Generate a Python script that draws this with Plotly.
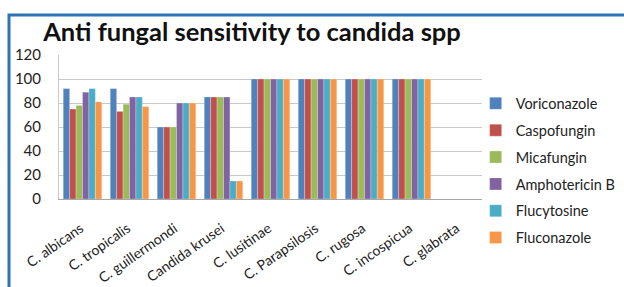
import plotly.graph_objects as go

categories = ["C. albicans", "C. tropicalis", "C. guillermondi", "Candida krusei",
              "C. lusitinae", "C. Parapsilosis", "C. rugosa", "C. incospicua", "C. glabrata"]

voriconazole   = [92, 92, 60, 85, 100, 100, 100, 100, None]
caspofungin    = [75, 73, 60, 85, 100, 100, 100, 100, None]
micafungin     = [78, 79, 60, 85, 100, 100, 100, 100, None]
amphotericin_b = [89, 85, 80, 85, 100, 100, 100, 100, None]
flucytosine    = [92, 85, 80, 15, 100, 100, 100, 100, None]
fluconazole    = [81, 77, 80, 15, 100, 100, 100, 100, None]

series = [
    ("Voriconazole", voriconazole, "#4F81BD"),
    ("Caspofungin", caspofungin, "#C0504D"),
    ("Micafungin", micafungin, "#9BBB59"),
    ("Amphotericin B", amphotericin_b, "#8064A2"),
    ("Flucytosine", flucytosine, "#4BACC6"),
    ("Fluconazole", fluconazole, "#F79646"),
]

FONT = "Lato"

fig = go.Figure()
for i, (name, vals, color) in enumerate(series):
    fig.add_trace(go.Bar(
        name=name, x=categories, y=vals,
        marker=dict(color=color, line=dict(color="rgba(255,255,255,0.5)", width=0.5)),
        legendgroup=f"g{i}",
    ))

fig.update_layout(
    width=624, height=287,
    margin=dict(l=59, r=142, t=55, b=88, autoexpand=False),
    paper_bgcolor="white", plot_bgcolor="white",
    barmode="group", bargap=0.18, bargroupgap=0,
    font=dict(family=FONT, size=13, color="#222222"),
    title=dict(text="<b>Anti fungal sensitivity to candida spp</b>",
               font=dict(family=FONT, size=25.5, color="#111111"),
               xref="container", x=252/624, xanchor="center",
               yref="container", y=1-32/287, yanchor="middle"),
    legend=dict(x=0.985, xanchor="left", y=0.775, yanchor="top",
                font=dict(family=FONT, size=14.5, color="#222222"),
                tracegroupgap=5, itemwidth=30, bgcolor="rgba(0,0,0,0)",
                maxheight=280),
    xaxis=dict(showline=True, linecolor="#A6A6A6", linewidth=1, automargin=False,
               tickangle=-35, tickfont=dict(size=14), ticks="",
               ticklabelstandoff=15, ticklabelshift=-2),
    yaxis=dict(range=[0, 120], dtick=20, showgrid=True, gridcolor="#C8C8C8", gridwidth=1,
               showline=True, linecolor="#C8C8C8", zeroline=False, automargin=False,
               tickfont=dict(size=15), ticklabelstandoff=14),
    shapes=[dict(type="rect", xref="paper", yref="paper",
                 x0=(9-59)/423, x1=1.6, y0=-0.8, y1=(199-15)/144,
                 line=dict(color="#2E75B6", width=3), fillcolor="rgba(0,0,0,0)", layer="below")],
)

fig.write_html("out.html", config={"displayModeBar": False},
               post_script="document.body.style.margin='0';document.body.style.overflow='hidden';")
